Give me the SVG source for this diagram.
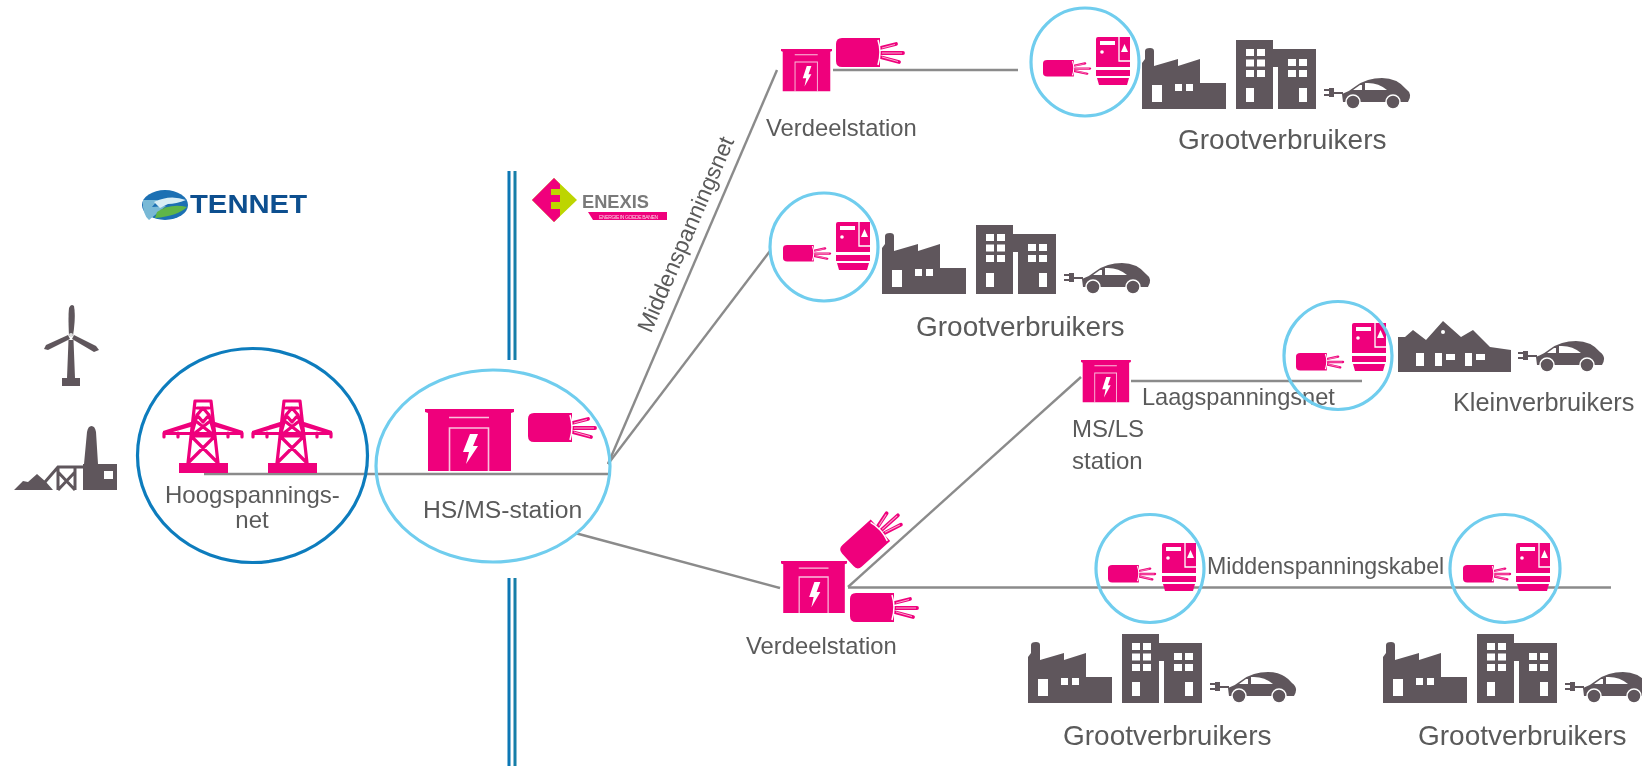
<svg xmlns="http://www.w3.org/2000/svg" xmlns:xlink="http://www.w3.org/1999/xlink" width="1642" height="766" viewBox="0 0 1642 766">
<style>
text{font-family:"Liberation Sans",Arial,sans-serif;fill:#5a5a5a;font-size:24px}
.gv{font-size:28px}
.vd{font-size:23.800px}
.pink{fill:#ef047c}
.dark{fill:#5f575c}
.win{fill:#fff}
.ring{fill:none;stroke:#6fcdee;stroke-width:3.200}
.conn{fill:none;stroke:#8b8b8b;stroke-width:2.400}
.wire{fill:none;stroke:#ef047c;stroke-width:3.800;stroke-linecap:round}
.wire2{fill:none;stroke:#f9a6cd;stroke-width:1}
.tw{fill:none;stroke:#ef047c;stroke-width:3.200;stroke-linecap:round;stroke-linejoin:round}
</style>
<defs>
<filter id="soft" filterUnits="userSpaceOnUse" x="0" y="0" width="1642" height="766"><feGaussianBlur stdDeviation="0.650"/></filter>
<g id="station">
<path class="pink" d="M0 0H89V3L86 4V62H3V4L0 3Z"/>
<path d="M24 8.500H64M24.500 62V19H63.500V62" fill="none" stroke="#fff" stroke-opacity=".75" stroke-width="1.600"/>
<path class="win" d="M45 25H53L48 37H53L41 55L44 43H38Z"/>
</g>
<g id="cable">
<path class="wire" d="M44 10L60 6M44 15L67 15M44 19L63 24"/>
<path class="wire2" d="M46 10L59 6.500M46 15L66 15M46 19L62 23.500"/>
<path class="pink" d="M6 0H44V29H6Q0 29 0 23V6Q0 0 6 0Z"/>
<path d="M42 2Q46 14 42 27" fill="none" stroke="#fff" stroke-width="1.500"/>
</g>
<g id="cabinet">
<path class="pink" d="M2 0H34V30H0V2Q0 0 2 0ZM0 33H34V39H0ZM1 41H33L31 48H3Z"/>
<rect class="win" x="4" y="4" width="15" height="4"/>
<circle class="win" cx="6" cy="15" r="1.800"/>
<path d="M23 0V24H34" fill="none" stroke="#fff" stroke-width="1.300"/>
<path class="win" d="M28.500 7L32 15H25Z"/>
</g>
<g id="car">
<path class="dark" d="M201 -7L200 -15Q208 -18 214 -23Q225 -31 240 -31Q255 -31 264 -20Q271 -15 266 -7Z"/>
<path class="win" d="M211 -19L218 -24H220V-19ZM223 -19V-26Q236 -27 245 -19Z"/>
<circle class="dark" cx="211" cy="-7" r="7" stroke="#fff" stroke-width="1.500"/>
<circle class="dark" cx="251" cy="-7" r="7" stroke="#fff" stroke-width="1.500"/>
<path class="dark" d="M187 -21H192V-12H187Z"/>
<path d="M182 -19H188M182 -14H188M191 -16H201" stroke="#5f575c" stroke-width="2.200" fill="none"/>
</g>
<g id="consumers">
<path class="dark" d="M0 0V-46L3 -50V-58Q3 -61 8 -61Q12 -61 12 -58V-43L36 -50V-43L58 -50V-26H84V0Z"/>
<path class="win" d="M10 -24H20V-7H10ZM33 -25H40V-18H33ZM44 -25H51V-18H44Z"/>
<path class="dark" d="M94 0V-69H131V-60H174V0H136V-42H131V0Z"/>
<path class="win" d="M104 -60h8v7h-8ZM115 -60h8v7h-8ZM104 -49.500h8v7h-8ZM115 -49.500h8v7h-8ZM104 -39h8v7h-8ZM115 -39h8v7h-8ZM146 -50h8v7h-8ZM157 -50h8v7h-8ZM146 -39h8v7h-8ZM157 -39h8v7h-8ZM104 -21h8v14h-8ZM157 -21h8v14h-8Z"/>
<use href="#car" xlink:href="#car"/>
</g>
<g id="tower">
<rect class="pink" x="-24" y="63" width="49" height="10"/>
<path class="pink" d="M-9 21L-40 31V35H40V31L9 21V26L30 32H-30L-9 26Z"/>
<path class="tw" d="M-8 1H8M-8 1L-15 63M8 1L15 63M0 8L6 15L0 22L-6 15ZM-6 15L-11 33M6 15L11 33M-6 8H6M-6 22L8 33M6 22L-8 33M-12 36H12M-12 36L14 62M12 36L-14 62M-39 33V37M39 33V37M-25 33V37M25 33V37"/>
</g>
</defs>
<rect width="1642" height="766" fill="#fff"/>
<g filter="url(#soft)">
<g id="connectors">
<path class="conn" d="M204 474H608"/>
<path class="conn" d="M608 464L777 70"/>
<path class="conn" d="M608 464L770 251"/>
<path class="conn" d="M575 533L780 588"/>
<path class="conn" d="M833 70H1018"/>
<path class="conn" d="M848 587L1081 377"/>
<path class="conn" d="M848 587.500H1611"/>
<path class="conn" d="M1131 381H1362"/>
</g>
<g id="divider" fill="none" stroke-width="3">
<path d="M509 171V360M509 578V766" stroke="#0c77b5"/>
<path d="M515 171V360M515 578V766" stroke="#127fa8"/>
</g>
<g id="tennet-logo">
<ellipse cx="165" cy="205" rx="23" ry="15" fill="#1b6fb3"/>
<path d="M143 200H158L152 207L166 206L149 220Q142 214 143 200Z" fill="#79b9d6"/>
<path d="M154 202Q170 194 186 200Q176 204 168 204L160 208Z" fill="#d9eef5"/>
<path d="M157 212Q170 203 187 207Q178 216 155 218Z" fill="#5fb546"/>
<text x="190" y="213" style="font-size:25px;font-weight:bold;fill:#0f4f8f" textLength="117" lengthAdjust="spacingAndGlyphs">TENNET</text>
</g>
<g id="enexis-logo">
<path d="M532 200L554 178L577 200L554 222Z" fill="#bdd500"/>
<path d="M532 200L554 178L560 184V189H551V195H560V202H551V209H560V216L554 222Z" fill="#f0047c"/>
<text x="582" y="208" style="font-size:19px;font-weight:bold;fill:#7a7a7a" textLength="67" lengthAdjust="spacingAndGlyphs">ENEXIS</text>
<path d="M588 212H667V220H593Z" fill="#ef047c"/>
<text x="599" y="218.500" style="font-size:5px;fill:#fbd0e4" textLength="59">ENERGIE IN GOEDE BANEN</text>
</g>
<g id="generation">
<path class="dark" d="M69 336Q68 316 69 308Q71 303 74 306Q76 316 73 336Z"/>
<path class="dark" d="M68 335L46 345L44 349L48 350L70 339Z"/>
<path class="dark" d="M74 335L96 346L99 350L94 352L72 339Z"/>
<path class="dark" d="M68.500 340H73.500L75 378H80V386H62V378H67Z"/>
<circle cx="71" cy="335" r="2" fill="#ddd"/>
<path class="dark" d="M14 490L23 481L28 482L37 474L46 482L53 490Z"/>
<path class="dark" d="M83 490V464H84L87 432Q88 426 91.500 426Q95 426 96 432L98 464H117V490Z"/>
<rect class="win" x="104" y="471" width="9" height="8"/>
<path d="M45 482L58 467H83M58 467V490M75 467V490M58 472L75 490M75 472L58 490" fill="none" stroke="#5f575c" stroke-width="3"/>
</g>
<g id="hoogspanningsnet">
<use href="#tower" xlink:href="#tower" x="203" y="400"/>
<use href="#tower" xlink:href="#tower" x="292" y="400"/>
<ellipse cx="252.500" cy="455.500" rx="115" ry="107" fill="none" stroke="#0b7cbd" stroke-width="3.200"/>
<text x="165" y="503">Hoogspannings-</text>
<text x="252" y="528" text-anchor="middle">net</text>
</g>
<g id="hs-ms-station">
<use href="#station" xlink:href="#station" x="425" y="409"/>
<use href="#cable" xlink:href="#cable" x="528" y="413"/>
<ellipse class="ring" cx="493" cy="466" rx="117" ry="96"/>
<text x="423" y="518" style="font-size:24.700px">HS/MS-station</text>
</g>
<g id="middenspanningsnet-label">
<text transform="translate(651 334) rotate(-66.600)" style="font-size:22.800px">Middenspanningsnet</text>
</g>
<g id="verdeelstation-top">
<use href="#station" xlink:href="#station" transform="translate(781 49) scale(.573 .68)"/>
<use href="#cable" xlink:href="#cable" x="836" y="38"/>
<text class="vd" x="766" y="136">Verdeelstation</text>
</g>
<g id="verdeelstation-bottom">
<use href="#station" xlink:href="#station" transform="translate(781 561) scale(.742 .84)"/>
<use href="#cable" xlink:href="#cable" x="850" y="593"/>
<use href="#cable" xlink:href="#cable" transform="translate(873 537) rotate(-42) translate(-34 -14.500)"/>
<text class="vd" x="746" y="654">Verdeelstation</text>
</g>
<g id="ms-ls-station">
<use href="#station" xlink:href="#station" transform="translate(1081 360) scale(.56 .68)"/>
<text x="1072" y="437">MS/LS</text>
<text x="1072" y="469">station</text>
</g>
<g id="laagspanningsnet-label"><text x="1142" y="405" style="font-size:23.600px">Laagspanningsnet</text></g>
<g id="middenspanningskabel-label"><text x="1207" y="574" style="font-size:23.200px">Middenspanningskabel</text></g>
<g id="aansluiting-1">
<use href="#cable" xlink:href="#cable" transform="translate(1043 60) scale(.7 .57)"/>
<use href="#cabinet" xlink:href="#cabinet" x="1096" y="37"/>
<circle class="ring" cx="1085" cy="62" r="54"/>
</g>
<g id="aansluiting-2">
<use href="#cable" xlink:href="#cable" transform="translate(783 245) scale(.7 .57)"/>
<use href="#cabinet" xlink:href="#cabinet" x="836" y="222"/>
<circle class="ring" cx="824" cy="247" r="54"/>
</g>
<g id="aansluiting-3">
<use href="#cable" xlink:href="#cable" transform="translate(1296 353) scale(.7 .6)"/>
<use href="#cabinet" xlink:href="#cabinet" x="1352" y="323"/>
<circle class="ring" cx="1338" cy="355.500" r="54"/>
</g>
<g id="aansluiting-4">
<use href="#cable" xlink:href="#cable" transform="translate(1108 565) scale(.7 .6)"/>
<use href="#cabinet" xlink:href="#cabinet" x="1162" y="543"/>
<circle class="ring" cx="1150" cy="568.500" r="54"/>
</g>
<g id="aansluiting-5">
<use href="#cable" xlink:href="#cable" transform="translate(1463 565) scale(.7 .6)"/>
<use href="#cabinet" xlink:href="#cabinet" x="1516" y="543"/>
<ellipse class="ring" cx="1505" cy="568.500" rx="55" ry="54"/>
</g>
<g id="grootverbruikers-1">
<use href="#consumers" xlink:href="#consumers" x="1142" y="109"/>
<text class="gv" x="1178" y="149">Grootverbruikers</text>
</g>
<g id="grootverbruikers-2">
<use href="#consumers" xlink:href="#consumers" x="882" y="294"/>
<text class="gv" x="916" y="336">Grootverbruikers</text>
</g>
<g id="grootverbruikers-3">
<use href="#consumers" xlink:href="#consumers" x="1028" y="703"/>
<text class="gv" x="1063" y="745">Grootverbruikers</text>
</g>
<g id="grootverbruikers-4">
<use href="#consumers" xlink:href="#consumers" x="1383" y="703"/>
<text class="gv" x="1418" y="745">Grootverbruikers</text>
</g>
<g id="kleinverbruikers">
<path class="dark" d="M1398 372V337H1405L1413 330L1426 340L1443 321L1461 337L1473 330L1490 347L1511 350V372Z"/>
<path class="win" d="M1416 353h8v13h-8ZM1435 353h7v13h-7ZM1446 354h9v6h-9ZM1465 353h7v13h-7ZM1476 354h9v6h-9Z"/>
<circle class="win" cx="1443" cy="332" r="2"/>
<use href="#car" xlink:href="#car" x="1336" y="372"/>
<text x="1453" y="411" style="font-size:25.300px">Kleinverbruikers</text>
</g>
</g>
</svg>
